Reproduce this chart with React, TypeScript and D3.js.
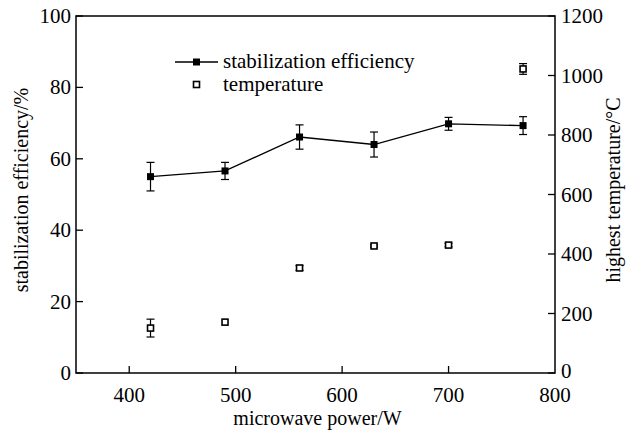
import React from "react";
import * as d3 from "d3";

const power = [420, 490, 560, 630, 700, 770];
const efficiency = [55.0, 56.6, 66.1, 64.0, 69.8, 69.3];
const efficiencyErr = [4.0, 2.4, 3.4, 3.5, 1.8, 2.5];
const temperature = [151, 171, 353, 427, 430, 1022];
const temperatureErr = [30, 0, 8, 4, 6, 18];
const xTicks = [400, 500, 600, 700, 800];
const yLeftTicks = [0, 20, 40, 60, 80, 100];
const yRightTicks = [0, 200, 400, 600, 800, 1000, 1200];

export default function App() {
  const W = 629, H = 437;
  const L = 76, R = 555, T = 16, B = 373;
  const x = d3.scaleLinear().domain([350, 800]).range([L, R]);
  const yL = d3.scaleLinear().domain([0, 100]).range([B, T]);
  const yR = d3.scaleLinear().domain([0, 1200]).range([B, T]);
  const font = "'Liberation Serif', 'Times New Roman', serif";
  const fs = 21;
  const fsTitle = 20;
  const tick = 7;
  const line = d3.line<number>().x((_, i) => x(power[i])).y((d) => yL(d));
  const cap = 4;
  const ms = 7;

  return (
    <svg width={W} height={H} style={{ position: "absolute", left: 0, top: 0, background: "#fff" }} fontFamily={font}>
      <rect x={0} y={0} width={W} height={H} fill="#fff" />
      {/* frame */}
      <rect x={L} y={T} width={R - L} height={B - T} fill="none" stroke="#000" strokeWidth={1.5} />
      {/* x ticks */}
      {xTicks.map((t) => (
        <g key={"x" + t}>
          {x(t) < R - 1 && <line x1={x(t)} x2={x(t)} y1={B} y2={B - tick} stroke="#000" strokeWidth={1.3} />}
          <text x={x(t)} y={402} textAnchor="middle" fontSize={fs}>{t}</text>
        </g>
      ))}
      {/* left ticks */}
      {yLeftTicks.map((t) => (
        <g key={"yl" + t}>
          <line x1={L} x2={L + tick} y1={yL(t)} y2={yL(t)} stroke="#000" strokeWidth={1.3} />
          <text x={L - 5} y={yL(t) + 7} textAnchor="end" fontSize={fs}>{t}</text>
        </g>
      ))}
      {/* right ticks */}
      {yRightTicks.map((t) => (
        <g key={"yr" + t}>
          <line x1={R} x2={R - tick} y1={yR(t)} y2={yR(t)} stroke="#000" strokeWidth={1.3} />
          <text x={R + 6} y={yR(t) + (t === 0 ? 5 : 7)} textAnchor="start" fontSize={fs}>{t}</text>
        </g>
      ))}
      {/* axis labels */}
      <text x={(L + R) / 2 + 2} y={425} textAnchor="middle" fontSize={fsTitle}>microwave power/W</text>
      <text transform={`translate(28, 190) rotate(-90)`} textAnchor="middle" fontSize={fsTitle}>stabilization efficiency/%</text>
      <text transform={`translate(620, 190) rotate(-90)`} textAnchor="middle" fontSize={fsTitle}>highest temperature/°C</text>

      {/* efficiency line */}
      <path d={line(efficiency) || ""} fill="none" stroke="#000" strokeWidth={1.3} />
      {efficiency.map((v, i) => {
        const cx = x(power[i]);
        const y1 = yL(v + efficiencyErr[i]);
        const y2 = yL(v - efficiencyErr[i]);
        return (
          <g key={"e" + i}>
            <line x1={cx} x2={cx} y1={y1} y2={y2} stroke="#000" strokeWidth={1.2} />
            <line x1={cx - cap} x2={cx + cap} y1={y1} y2={y1} stroke="#000" strokeWidth={1.2} />
            <line x1={cx - cap} x2={cx + cap} y1={y2} y2={y2} stroke="#000" strokeWidth={1.2} />
            <rect x={cx - ms / 2} y={yL(v) - ms / 2} width={ms} height={ms} fill="#000" />
          </g>
        );
      })}
      {/* temperature points */}
      {temperature.map((v, i) => {
        const cx = x(power[i]);
        const e = temperatureErr[i];
        const y1 = yR(v + e);
        const y2 = yR(v - e);
        return (
          <g key={"t" + i}>
            {e > 0 && (
              <>
                <line x1={cx} x2={cx} y1={y1} y2={y2} stroke="#000" strokeWidth={1.2} />
                <line x1={cx - cap} x2={cx + cap} y1={y1} y2={y1} stroke="#000" strokeWidth={1.2} />
                <line x1={cx - cap} x2={cx + cap} y1={y2} y2={y2} stroke="#000" strokeWidth={1.2} />
              </>
            )}
            <rect x={cx - 3} y={yR(v) - 3} width={6} height={6} fill="#fff" stroke="#000" strokeWidth={1.6} />
          </g>
        );
      })}

      {/* legend */}
      <line x1={175} x2={218} y1={62} y2={62} stroke="#000" strokeWidth={1.3} />
      <rect x={196.5 - ms / 2} y={62 - ms / 2} width={ms} height={ms} fill="#000" />
      <text x={223} y={68} fontSize={fs}>stabilization efficiency</text>
      <rect x={196.5 - 3} y={84.5 - 3} width={6} height={6} fill="#fff" stroke="#000" strokeWidth={1.6} />
      <text x={223} y={91} fontSize={fs}>temperature</text>
    </svg>
  );
}
